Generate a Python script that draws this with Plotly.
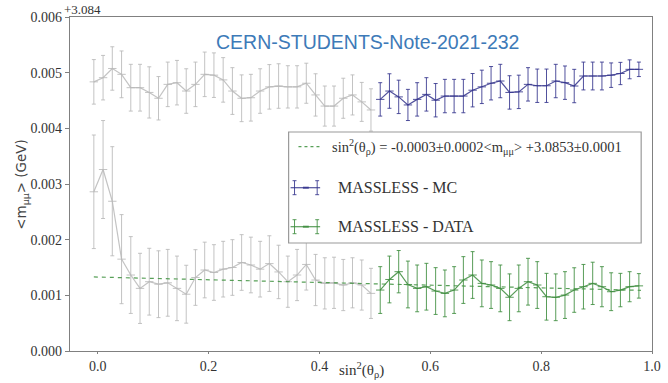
import plotly.graph_objects as go

# ---- data (values are <m_mumu> - 3.084 GeV) ----
n_bins = 60
x_start = -0.007
x_step = 1.0 / 60
split = 31  # first index of the coloured (MC / DATA) part

mc_vals = [4.835, 4.91, 5.075, 4.97, 4.73, 4.73, 4.645, 4.54, 4.79, 4.82,
           4.67, 4.79, 4.97, 4.955, 4.87, 4.67, 4.54, 4.55, 4.67, 4.745,
           4.76, 4.745, 4.745, 4.81, 4.60, 4.40, 4.40, 4.54, 4.60, 4.475,
           4.33,
           4.52, 4.67, 4.565, 4.42, 4.52, 4.61, 4.505, 4.58, 4.58, 4.58,
           4.685, 4.745, 4.81, 4.85, 4.645, 4.655, 4.79, 4.765, 4.765, 4.85,
           4.82, 4.76, 4.94, 4.94, 4.94, 4.955, 4.985, 5.06, 5.06]
mc_errs = [0.40, 0.40, 0.39, 0.42, 0.42, 0.42, 0.46, 0.39, 0.40, 0.40,
           0.40, 0.40, 0.40, 0.40, 0.40, 0.42, 0.42, 0.42, 0.40, 0.40,
           0.40, 0.38, 0.38, 0.36, 0.38, 0.36, 0.36, 0.36, 0.36, 0.35,
           0.38,
           0.30, 0.31, 0.30, 0.28, 0.30, 0.30, 0.30, 0.30, 0.30, 0.30,
           0.30, 0.30, 0.30, 0.30, 0.30, 0.30, 0.30, 0.30, 0.30, 0.30,
           0.30, 0.30, 0.25, 0.25, 0.25, 0.22, 0.20, 0.17, 0.13]

data_vals = [2.86, 3.26, 2.69, 1.65, 1.365, 1.125, 1.245, 1.20, 1.225, 1.125,
             1.02, 1.32, 1.455, 1.41, 1.47, 1.50, 1.59, 1.545, 1.47, 1.57,
             1.42, 1.245, 1.365, 1.555, 1.275, 1.215, 1.225, 1.185, 1.225, 1.185,
             1.035,
             1.095, 1.285, 1.425, 1.195, 1.125, 1.155, 1.077, 1.035, 1.095, 1.275,
             1.365, 1.215, 1.185, 1.125, 0.965, 1.125, 1.245, 1.185, 0.975, 0.965,
             1.005, 1.095, 1.155, 1.215, 1.155, 1.065, 1.095, 1.155, 1.17]
data_errs = [1.02, 0.88, 0.98, 0.80, 0.69, 0.63, 0.60, 0.60, 0.60, 0.58,
             0.52, 0.50, 0.50, 0.50, 0.50, 0.50, 0.50, 0.50, 0.50, 0.50,
             0.48, 0.46, 0.46, 0.46, 0.46, 0.46, 0.46, 0.46, 0.45, 0.45,
             0.45,
             0.42, 0.42, 0.38, 0.42, 0.42, 0.42, 0.42, 0.42, 0.42, 0.42,
             0.42, 0.42, 0.42, 0.42, 0.42, 0.42, 0.42, 0.42, 0.42, 0.42,
             0.42, 0.40, 0.40, 0.38, 0.36, 0.34, 0.30, 0.27, 0.22]

fit_x = [-0.007, 0.98]
fit_y = [1.33, 1.09]

y_offset_label = "+3.084"
title_text = "CERN-STUDENTS-Note-2021-232"
legend_labels = [
    "sin<sup>2</sup>(θ<sub>ρ</sub>) = -0.0003±0.0002&lt;m<sub>μμ</sub>&gt; +3.0853±0.0001",
    "MASSLESS - MC",
    "MASSLESS - DATA",
]
x_ticks = [0.0, 0.2, 0.4, 0.6, 0.8, 1.0]
y_ticks = [0.000, 0.001, 0.002, 0.003, 0.004, 0.005, 0.006]

# ---- derived ----
scale = 1e-3
xs = [x_start + i * x_step for i in range(n_bins)]
mc = [v * scale for v in mc_vals]
mce = [e * scale for e in mc_errs]
da = [v * scale for v in data_vals]
dae = [e * scale for e in data_errs]

GRAY = "rgba(185,185,185,0.85)"
BLUE = "rgba(50,50,140,0.85)"
GREEN = "rgba(60,140,60,0.85)"
SERIF = "Liberation Serif"
SANS = "DejaVu Sans"

fig = go.Figure()


def add_series(x, y, e, color):
    fig.add_trace(go.Scatter(
        x=x, y=y, mode="lines+markers",
        line=dict(color=color, width=1.2),
        marker=dict(symbol="line-ew", size=6, line=dict(color=color, width=1)),
        error_y=dict(type="data", array=e, visible=True, color=color,
                     thickness=1, width=2),
        showlegend=False, hoverinfo="skip"))


add_series(xs[:split], mc[:split], mce[:split], GRAY)
add_series(xs[:split], da[:split], dae[:split], GRAY)
add_series(xs[split:], mc[split:], mce[split:], BLUE)
add_series(xs[split:], da[split:], dae[split:], GREEN)

fig.add_trace(go.Scatter(
    x=fit_x, y=[v * scale for v in fit_y], mode="lines",
    line=dict(color="rgba(70,150,70,0.9)", width=1.2, dash="4px,4px"),
    showlegend=False, hoverinfo="skip"))

# ---- legend drawn by hand ----
L, R, T, B = 70, 661, 17, 351
def px(xp):
    return (xp - L) / (R - L)
def py(yp):
    return (B - yp) / (B - T)

shapes = []
shapes.append(dict(type="rect", xref="paper", yref="paper",
                   x0=px(292), x1=px(650), y0=py(243), y1=py(132),
                   line=dict(color="#9a9a9a", width=1.2), fillcolor="white",
                   layer="above"))
row_y = [146.7, 187.7, 226.7]
shapes.append(dict(type="line", xref="paper", yref="paper",
                   x0=px(302), x1=px(325), y0=py(row_y[0]), y1=py(row_y[0]),
                   line=dict(color="rgba(70,150,70,0.9)", width=1.2, dash="3px,3px"),
                   layer="above"))
for ry, col in [(row_y[1], BLUE), (row_y[2], GREEN)]:
    shapes.append(dict(type="line", xref="paper", yref="paper",
                       x0=px(294), x1=px(324), y0=py(ry), y1=py(ry),
                       line=dict(color=col, width=1.2), layer="above"))
    for vx in (298, 321):
        shapes.append(dict(type="line", xref="paper", yref="paper",
                           x0=px(vx), x1=px(vx), y0=py(ry - 7), y1=py(ry + 7),
                           line=dict(color=col, width=1), layer="above"))
        for cy in (ry - 7, ry + 7):
            shapes.append(dict(type="line", xref="paper", yref="paper",
                               x0=px(vx - 2), x1=px(vx + 2), y0=py(cy), y1=py(cy),
                               line=dict(color=col, width=1), layer="above"))
    shapes.append(dict(type="line", xref="paper", yref="paper",
                       x0=px(306.5), x1=px(312.5), y0=py(ry), y1=py(ry),
                       line=dict(color=col, width=2), layer="above"))

annotations = [
    dict(text=title_text, xref="paper", yref="paper", x=px(372), y=py(42),
         xanchor="center", yanchor="middle", showarrow=False,
         font=dict(family="Liberation Sans", size=19.5, color="#3d7ab8")),
    dict(text=y_offset_label, xref="paper", yref="paper", x=px(62), y=py(9),
         xanchor="left", yanchor="middle", showarrow=False,
         font=dict(family=SERIF, size=13, color="#333")),
    dict(text=legend_labels[0], xref="paper", yref="paper", x=px(334), y=py(row_y[0]),
         xanchor="left", yanchor="middle", showarrow=False,
         font=dict(family=SERIF, size=14.5, color="#333")),
    dict(text=legend_labels[1], xref="paper", yref="paper", x=px(340), y=py(row_y[1]),
         xanchor="left", yanchor="middle", showarrow=False,
         font=dict(family=SERIF, size=16, color="#333")),
    dict(text=legend_labels[2], xref="paper", yref="paper", x=px(340), y=py(row_y[2]),
         xanchor="left", yanchor="middle", showarrow=False,
         font=dict(family=SERIF, size=16, color="#333")),
    dict(text="&lt;m<sub>μμ</sub>&gt; (GeV)", xref="paper", yref="paper",
         x=px(21), y=0.5, xanchor="center", yanchor="middle", textangle=-90,
         showarrow=False, font=dict(family=SANS, size=13.5, color="#444")),
    dict(text="sin<sup>2</sup>(θ<sub>ρ</sub>)", xref="paper", yref="paper",
         x=0.5, y=py(370), xanchor="center", yanchor="middle",
         showarrow=False, font=dict(family=SERIF, size=15, color="#333")),
]

fig.update_layout(
    width=668, height=383,
    margin=dict(l=L, r=668 - R, t=T, b=383 - B),
    paper_bgcolor="white", plot_bgcolor="white",
    shapes=shapes, annotations=annotations,
    showlegend=False,
)
fig.update_xaxes(range=[-0.05, 1.0], tickvals=x_ticks,
                 ticktext=[f"{v:.1f}" for v in x_ticks],
                 ticklabeloverflow="allow",
                 showgrid=False, zeroline=False, showline=True,
                 linecolor="#808080", linewidth=1.2, mirror=True,
                 ticks="outside", ticklen=2, tickcolor="#808080",
                 tickfont=dict(family=SERIF, size=14, color="#333"))
fig.update_yaxes(range=[0, 0.006], tickvals=y_ticks,
                 ticktext=[f"{v:.3f}" for v in y_ticks],
                 showgrid=False, zeroline=False, showline=True,
                 linecolor="#808080", linewidth=1.2, mirror=True,
                 ticks="outside", ticklen=4, tickcolor="#808080",
                 tickfont=dict(family=SERIF, size=14, color="#333"))

fig.write_html("out.html")
